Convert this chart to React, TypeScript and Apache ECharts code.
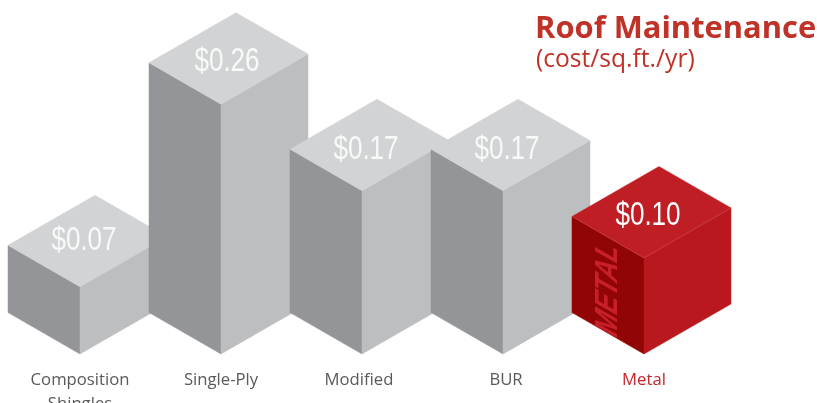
import React, { useEffect, useRef } from "react";
import * as echarts from "echarts";

const categories = ["Composition\nShingles", "Single-Ply", "Modified", "BUR", "Metal"];
const values = [0.07, 0.26, 0.17, 0.17, 0.1];
const valueLabels = ["$0.07", "$0.26", "$0.17", "$0.17", "$0.10"];
const highlighted = "Metal";

const grayFaces = { top: "#d1d3d4", right: "#bcbec0", left: "#939598" };
const redFaces = { top: "#bf1e24", right: "#b9181e", left: "#920505" };
const dLeft = 72, dRight = 87, slope = 0.575;
const labelFont = { fontFamily: "Open Sans", fontSize: 16.7, lineHeight: 24, color: "#58595b" };

export default function App() {
  const ref = useRef<HTMLDivElement>(null);
  useEffect(() => {
    const chart = echarts.init(ref.current!, undefined, { renderer: "svg" });
    const labelNudge = [[4, -7], [6, -3], [4, -2], [4, -2], [4, -3]];
    chart.setOption({
      animation: false,
      title: [
        { text: "Roof Maintenance", left: 535, top: 11, padding: 0, textStyle: { fontFamily: "Open Sans", fontSize: 30.9, lineHeight: 30, fontWeight: 700, color: "#bf3228" } },
        { text: "(cost/sq.ft./yr)", left: 536, top: 44, padding: 0, textStyle: { fontFamily: "Open Sans", fontSize: 24.6, lineHeight: 26, fontWeight: 400, color: "#bf3228" } },
      ],
      grid: { left: 9.5, right: 102.5, top: 65.7, bottom: 49, outerBoundsMode: "none", containLabel: false },
      xAxis: {
        type: "category",
        data: categories,
        axisLine: { show: false },
        axisTick: { show: false },
        axisLabel: {
          margin: 12,
          ...labelFont,
          interval: 0,
          color: (v: string) => (v === highlighted ? "#c1272d" : "#58595b"),
          formatter: (v: string) => (v === "Modified" ? "{m|" + v + "}" : v === "BUR" ? "{b|" + v + "}" : v),
          rich: {
            m: { ...labelFont, padding: [0, 6, 0, 0] },
            b: { ...labelFont, padding: [0, 0, 0, 6] },
          },
        },
      },
      yAxis: { type: "value", min: 0, max: 0.3, interval: 0.1, show: false },
      series: [
        {
          type: "custom",
          clip: false,
          data: values.map((v, i) => [i, v]),
          renderItem: (params: any, api: any) => {
            const i = api.value(0);
            const [cx, by] = api.coord([i, 0]);
            const [, ty] = api.coord([i, api.value(1)]);
            const isRed = categories[i] === highlighted;
            const c = isRed ? redFaces : grayFaces;
            const dl = dLeft * slope, dr = dRight * slope;
            const poly = (pts: number[][], fill: string) => ({
              type: "polygon",
              shape: { points: pts },
              style: { fill, stroke: fill, lineWidth: 0.5 },
            });
            const children: any[] = [
              poly([[cx - dLeft, by - dl], [cx, by], [cx, ty], [cx - dLeft, ty - dl]], c.left),
              poly([[cx, by], [cx + dRight, by - dr], [cx + dRight, ty - dr], [cx, ty]], c.right),
              poly([[cx, ty], [cx + dRight, ty - dr], [cx + dRight - dLeft, ty - dr - dl], [cx - dLeft, ty - dl]], c.top),
              {
                type: "text",
                x: cx + labelNudge[i][0],
                y: ty - dl + labelNudge[i][1],
                scaleX: 0.79,
                style: {
                  text: valueLabels[i],
                  fontFamily: "Liberation Sans",
                  fontSize: 33,
                  fill: "#ffffff",
                  opacity: isRed ? 1 : 0.85,
                  align: "center",
                  verticalAlign: "middle",
                },
              },
            ];
            if (isRed) {
              children.push({
                type: "polyline",
                shape: { points: [[cx - dLeft, ty - dl], [cx, ty], [cx + dRight, ty - dr]] },
                style: { fill: "none", stroke: "#d5555a", lineWidth: 0.6, opacity: 0.7 },
              });
              children.push({
                type: "text",
                x: cx - 38,
                y: by - 66,
                rotation: Math.PI / 2,
                scaleX: 0.84,
                skewX: Math.atan(-0.57),
                style: {
                  text: "METAL",
                  fontFamily: "Liberation Sans",
                  fontWeight: 700,
                  fontSize: 32,
                  fill: "#c8202a",
                  align: "center",
                  verticalAlign: "middle",
                },
              });
            }
            return { type: "group", children };
          },
        },
      ],
    });
    return () => chart.dispose();
  }, []);
  return <div ref={ref} style={{ position: "fixed", left: 0, top: 0, width: 817, height: 403 }} />;
}
